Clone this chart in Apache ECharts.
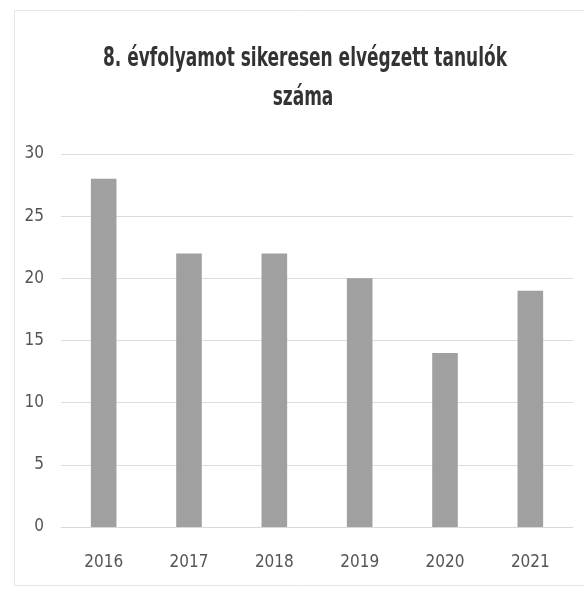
<!DOCTYPE html>
<html><head><meta charset="utf-8">
<script src="https://cdn.jsdelivr.net/npm/echarts@6/dist/echarts.min.js"></script>
<style>html,body{margin:0;padding:0;background:#fff}#c{width:584px;height:591px}</style>
</head><body><div id="c"></div>
<script>
const titleLine1 = "8. évfolyamot sikeresen elvégzett tanulók";
const titleLine2 = "száma";
const years = ["2016", "2017", "2018", "2019", "2020", "2021"];
const students = [28, 22, 22, 20, 14, 19];
const yTicks = { min: 0, max: 30, interval: 5 };

const font = '"DejaVu Sans Condensed", "Liberation Sans Narrow", "Open Sans", sans-serif';
const titleFont = 'bold 27px "DejaVu Sans Condensed", "Open Sans", sans-serif';
const chart = echarts.init(document.getElementById('c'), null, { renderer: 'canvas' });
chart.setOption({
  animation: false,
  backgroundColor: '#fff',
  graphic: [
    { type: 'rect', shape: { x: 14.5, y: 10.5, width: 580, height: 575 },
      style: { fill: 'none', stroke: '#e6e6e6', lineWidth: 1 }, silent: true },
    { type: 'text', x: 305, y: 59, scaleX: 0.7,
      style: { text: titleLine1, font: titleFont, fill: '#333', align: 'center', verticalAlign: 'middle' } },
    { type: 'text', x: 303, y: 98, scaleX: 0.7,
      style: { text: titleLine2, font: titleFont, fill: '#333', align: 'center', verticalAlign: 'middle' } }
  ],
  grid: { left: 61, right: 11, top: 154, bottom: 64, containLabel: false },
  xAxis: {
    type: 'category', data: years,
    axisLine: { show: true, lineStyle: { color: '#d9d9d9' } },
    axisTick: { show: false },
    axisLabel: { fontFamily: font, fontSize: 17, color: '#555', margin: 27 }
  },
  yAxis: {
    type: 'value', min: yTicks.min, max: yTicks.max, interval: yTicks.interval,
    axisLine: { show: false }, axisTick: { show: false },
    splitLine: { lineStyle: { color: '#dcdcdc', width: 1 } },
    axisLabel: { fontFamily: font, fontSize: 17, color: '#555', margin: 17 }
  },
  series: [{
    type: 'bar', data: students, barWidth: '30%',
    itemStyle: { color: '#a0a0a0' }
  }]
});
</script></body></html>
